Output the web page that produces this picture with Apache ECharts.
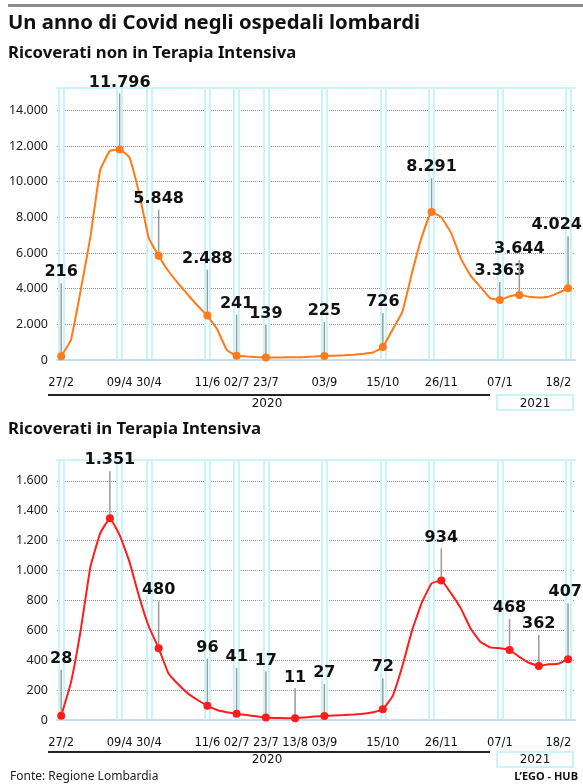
<!DOCTYPE html>
<html>
<head>
<meta charset="utf-8">
<title>Un anno di Covid negli ospedali lombardi</title>
<script src="https://cdn.jsdelivr.net/npm/echarts@6/dist/echarts.min.js"></script>
<style>
  html, body { margin: 0; padding: 0; background: #fff; }
  #chart { width: 583px; height: 784px; }
</style>
</head>
<body>
<div id="chart"></div>
<script>
// weekly readings, every Thursday from 27/2/2020
const weeks = [
  '2020-02-27', '2020-03-05', '2020-03-12', '2020-03-19', '2020-03-26', '2020-04-02', '2020-04-09',
  '2020-04-16', '2020-04-23', '2020-04-30', '2020-05-07', '2020-05-14', '2020-05-21', '2020-05-28',
  '2020-06-04', '2020-06-11', '2020-06-18', '2020-06-25', '2020-07-02', '2020-07-09', '2020-07-16',
  '2020-07-23', '2020-07-30', '2020-08-06', '2020-08-13', '2020-08-20', '2020-08-27', '2020-09-03',
  '2020-09-10', '2020-09-17', '2020-09-24', '2020-10-01', '2020-10-08', '2020-10-15', '2020-10-22',
  '2020-10-29', '2020-11-05', '2020-11-12', '2020-11-19', '2020-11-26', '2020-12-03', '2020-12-10',
  '2020-12-17', '2020-12-24', '2020-12-31', '2021-01-07', '2021-01-14', '2021-01-21', '2021-01-28',
  '2021-02-04', '2021-02-11', '2021-02-18', '2021-02-25'
];

// Ricoverati non in Terapia Intensiva
const wardPatients = [
  216, 1120, 3900, 6900, 10640, 11730, 11796,
  11360, 9340, 6820, 5848, 4990, 4300, 3660,
  3040, 2488, 1720, 560, 241, 200, 165,
  139, 142, 148, 155, 165, 190, 225,
  240, 265, 300, 350, 420, 726, 1700,
  2700, 4900, 6900, 8291, 8000, 7130, 5700,
  4730, 4100, 3470, 3363, 3570, 3644, 3550,
  3510, 3550, 3760, 4024
];

// Ricoverati in Terapia Intensiva
const icuPatients = [
  28, 250, 600, 1025, 1249, 1351, 1237,
  1060, 825, 624, 480, 313, 239, 178,
  134, 96, 67, 52, 41, 33, 25,
  17, 14, 12, 11, 17, 23, 27,
  30, 33, 37, 42, 52, 72, 160,
  360, 600, 785, 914, 934, 847, 747,
  613, 524, 486, 480, 468, 423, 383,
  362, 373, 376, 407
];

const wardTickDates = ['2020-02-27', '2020-04-09', '2020-04-30', '2020-06-11', '2020-07-02', '2020-07-23', '2020-09-03', '2020-10-15', '2020-11-26', '2021-01-07', '2021-02-18'];
const wardTickLabels = ['27/2', '09/4', '30/4', '11/6', '02/7', '23/7', '03/9', '15/10', '26/11', '07/1', '18/2'];
const icuTickDates = ['2020-02-27', '2020-04-09', '2020-04-30', '2020-06-11', '2020-07-02', '2020-07-23', '2020-08-13', '2020-09-03', '2020-10-15', '2020-11-26', '2021-01-07', '2021-02-18'];
const icuTickLabels = ['27/2', '09/4', '30/4', '11/6', '02/7', '23/7', '13/8', '03/9', '15/10', '26/11', '07/1', '18/2'];
const guideDates = ['2020-02-27', '2020-04-09', '2020-04-30', '2020-06-11', '2020-07-02', '2020-07-23', '2020-09-03', '2020-10-15', '2020-11-19', '2021-01-07', '2021-02-25'];

const wardYTicks = [0, 2000, 4000, 6000, 8000, 10000, 12000, 14000];
const icuYTicks = [0, 200, 400, 600, 800, 1000, 1200, 1400, 1600];

// dates that carry a callout
const wardMarked = ['2020-02-27', '2020-04-09', '2020-05-07', '2020-06-11', '2020-07-02', '2020-07-23', '2020-09-03', '2020-10-15', '2020-11-19', '2021-01-07', '2021-01-21', '2021-02-25'];
const icuMarked = ['2020-02-27', '2020-04-02', '2020-05-07', '2020-06-11', '2020-07-02', '2020-07-23', '2020-08-13', '2020-09-03', '2020-10-15', '2020-11-26', '2021-01-14', '2021-02-04', '2021-02-25'];
// callout stem length in px
const wardStem = [73, 56, 46, 46, 41, 33, 34, 34, 34, 18, 35, 52];
const icuStem = [46, 47, 47, 47, 46, 46, 30, 32, 31, 32, 31, 31, 56];

const X_MIN = '2020-02-24';
const X_MAX = '2021-03-02';
const LABEL_FONT = 'bold 16px "DejaVu Sans"';
const CYAN = '#c8f5f9';

// x is counted in days from the first reading
const DAY = 86400000;
const dayOf = d => Math.round((Date.UTC(...d.split('-').map((n, i) => i === 1 ? n - 1 : +n)) - Date.UTC(2020, 1, 27)) / DAY);
const fmt = v => String(v).replace(/\B(?=(\d{3})+(?!\d))/g, '.');

const measureCtx = document.createElement('canvas').getContext('2d');
function textWidth(text, font) {
  measureCtx.font = font;
  return measureCtx.measureText(text).width;
}
// headline font sized so the text spans the given width
function fitFont(text, width) {
  const w = textWidth(text, 'bold 20px "Noto Sans"');
  return `bold ${(20 * width / w).toFixed(1)}px "Noto Sans"`;
}

function dayAxes(gridIndex, tickDates, tickLabels) {
  const names = {};
  tickDates.forEach((d, i) => { names[dayOf(d)] = tickLabels[i]; });
  const guides = guideDates.map(dayOf);
  const base = { type: 'value', gridIndex, min: dayOf(X_MIN), max: dayOf(X_MAX) };
  return [
    {
      ...base,
      axisLine: { lineStyle: { color: '#c4dcf6', width: 2 } },
      axisTick: { show: false, customValues: guides },
      axisLabel: {
        customValues: tickDates.map(dayOf),
        formatter: v => names[v] || '',
        hideOverlap: false,
        margin: 17,
        color: '#111',
        fontFamily: 'DejaVu Sans',
        fontSize: 11.5
      },
      splitLine: { show: true, lineStyle: { color: CYAN, width: 7 } }
    },
    {
      ...base,
      position: 'top',
      axisLine: { lineStyle: { color: CYAN, width: 2 } },
      axisTick: { show: false, customValues: guides },
      axisLabel: { show: false },
      splitLine: { show: true, lineStyle: { color: '#fff', width: 3 } }
    }
  ];
}

function valueAxis(gridIndex, max, ticks) {
  return {
    type: 'value',
    gridIndex,
    min: 0,
    max,
    axisLine: { show: false },
    axisTick: { show: false, customValues: ticks },
    axisLabel: {
      customValues: ticks,
      formatter: fmt,
      margin: 9,
      color: '#222',
      fontFamily: 'Noto Sans',
      fontSize: 12.5
    },
    splitLine: { lineStyle: { color: '#8b8da8', type: 'dotted', width: 1 } }
  };
}

function trendSeries(idx, values, color) {
  return {
    type: 'line',
    xAxisIndex: idx * 2,
    yAxisIndex: idx,
    data: weeks.map((d, i) => [dayOf(d), values[i]]),
    showSymbol: false,
    smooth: 0.1,
    lineStyle: { color, width: 2 },
    itemStyle: { color },
    silent: true,
    z: 3
  };
}

function calloutSeries(idx, values, marked, stems, color) {
  return {
    type: 'custom',
    xAxisIndex: idx * 2,
    yAxisIndex: idx,
    clip: false,
    silent: true,
    z: 4,
    encode: { x: 0, y: 1 },
    data: marked.map(d => [dayOf(d), values[weeks.indexOf(d)]]),
    renderItem: (params, api) => {
      const v = api.value(1);
      const p = api.coord([api.value(0), v]);
      const top = p[1] - stems[params.dataIndex];
      const text = fmt(v);
      const w = textWidth(text, LABEL_FONT);
      const edge = api.getWidth() - 1;
      let x = p[0];
      let align = 'center';
      if (x + w / 2 > edge) { x = edge; align = 'right'; }
      return {
        type: 'group',
        children: [
          { type: 'line', shape: { x1: p[0], y1: p[1], x2: p[0], y2: top }, style: { stroke: '#9a9a9a', lineWidth: 1.5 } },
          { type: 'circle', shape: { cx: p[0], cy: p[1], r: 4 }, style: { fill: color } },
          { type: 'text', style: { text, x, y: top - 3, align, verticalAlign: 'bottom', font: LABEL_FONT, fill: '#111' } }
        ]
      };
    }
  };
}

function yearBand(lineY, textY) {
  return [
    { type: 'rect', shape: { x: 48, y: lineY, width: 442, height: 2 }, style: { fill: '#222' } },
    { type: 'text', style: { text: '2020', x: 267, y: textY, align: 'center', verticalAlign: 'middle', font: '12px "DejaVu Sans"', fill: '#111' } },
    { type: 'rect', shape: { x: 497, y: lineY + 1, width: 76, height: 15 }, style: { fill: 'none', stroke: CYAN, lineWidth: 2 } },
    { type: 'text', style: { text: '2021', x: 535, y: textY, align: 'center', verticalAlign: 'middle', font: '12px "DejaVu Sans"', fill: '#111' } }
  ];
}

const TITLE = 'Un anno di Covid negli ospedali lombardi';
const WARD_TITLE = 'Ricoverati non in Terapia Intensiva';
const ICU_TITLE = 'Ricoverati in Terapia Intensiva';

const chart = echarts.init(document.getElementById('chart'), null, { renderer: 'canvas' });

chart.setOption({
  animation: false,
  backgroundColor: '#fff',
  grid: [
    { left: 57, right: 8, top: 88, height: 272 },
    { left: 57, right: 8, top: 460, height: 260 }
  ],
  xAxis: [
    ...dayAxes(0, wardTickDates, wardTickLabels),
    ...dayAxes(1, icuTickDates, icuTickLabels)
  ],
  yAxis: [
    valueAxis(0, 15250, wardYTicks),
    valueAxis(1, 1740, icuYTicks)
  ],
  series: [
    trendSeries(0, wardPatients, '#ff7b1a'),
    calloutSeries(0, wardPatients, wardMarked, wardStem, '#ff7b1a'),
    trendSeries(1, icuPatients, '#ff1c1c'),
    calloutSeries(1, icuPatients, icuMarked, icuStem, '#ff1c1c')
  ],
  graphic: [
    { type: 'rect', shape: { x: 8, y: 4, width: 575, height: 3 }, style: { fill: '#8d8a92' } },
    { type: 'text', style: { text: TITLE, x: 8, y: 23, verticalAlign: 'middle', font: fitFont(TITLE, 413), fill: '#111' } },
    { type: 'text', style: { text: WARD_TITLE, x: 8, y: 53, verticalAlign: 'middle', font: fitFont(WARD_TITLE, 289), fill: '#111' } },
    { type: 'text', style: { text: ICU_TITLE, x: 8, y: 429, verticalAlign: 'middle', font: fitFont(ICU_TITLE, 254), fill: '#111' } },
    ...yearBand(394, 403.5),
    ...yearBand(751, 760),
    { type: 'text', style: { text: 'Fonte: Regione Lombardia', x: 10, y: 777, verticalAlign: 'middle', font: '12px "Noto Sans"', fill: '#222' } },
    { type: 'text', style: { text: 'L\u2019EGO - HUB', x: 578, y: 777, align: 'right', verticalAlign: 'middle', font: 'bold 11px "Noto Sans"', fill: '#111' } }
  ]
});
</script>
</body>
</html>
